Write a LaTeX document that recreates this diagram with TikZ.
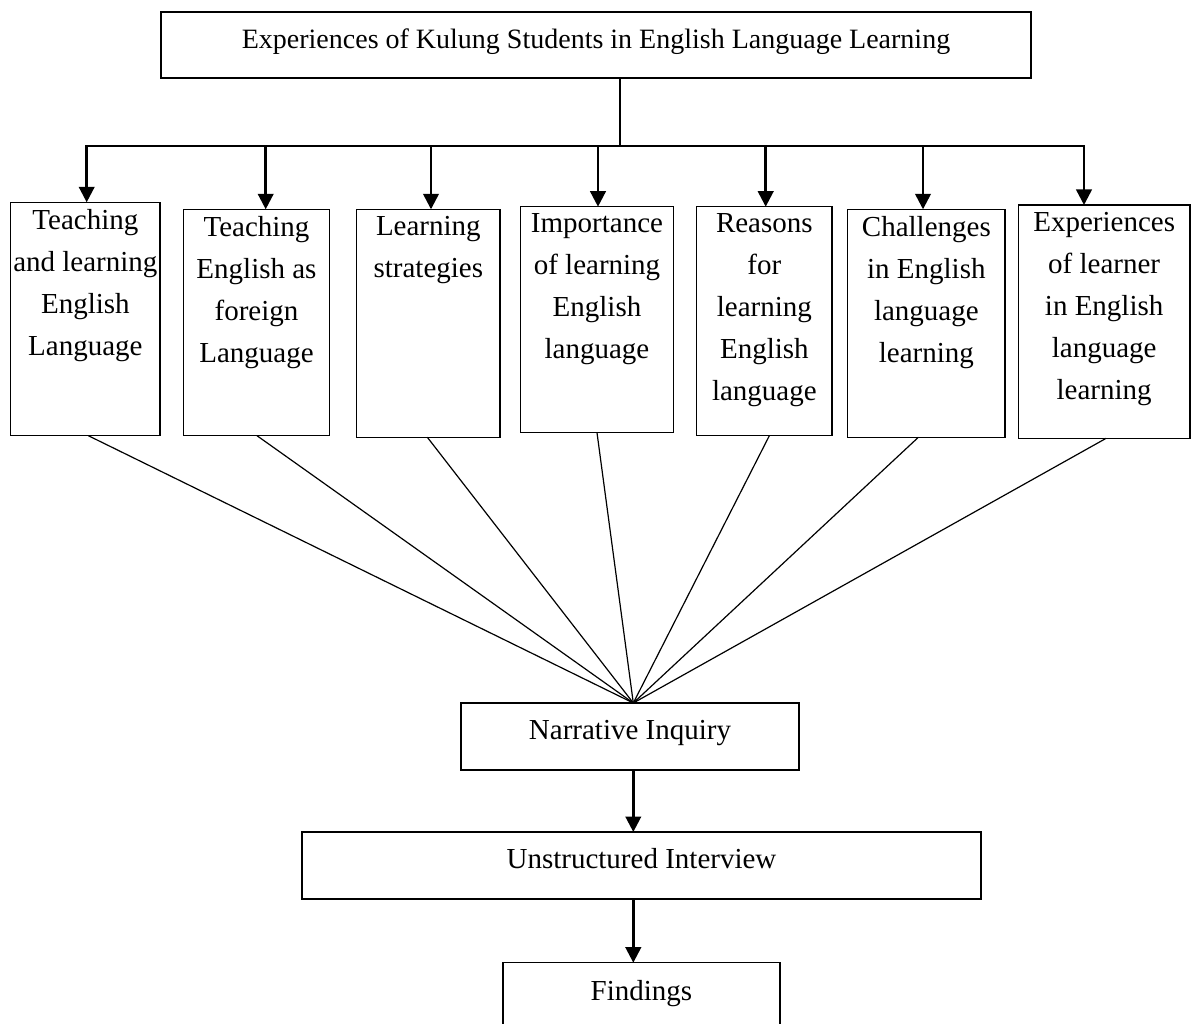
\documentclass[tikz,border=0pt]{standalone}
\usepackage{fontspec}
\setmainfont{Liberation Serif}
\usetikzlibrary{arrows.meta,calc}
\begin{document}
\begin{tikzpicture}[x=1pt,y=-1pt,
  box/.style={draw, line width=1.2pt, inner sep=0pt, outer sep=0pt, align=center},
  txt/.style={inner sep=0pt, align=center, anchor=north, font=\fontsize{29}{42}\selectfont},
  arr/.style={line width=2.5pt, -{Triangle[length=15.5pt,width=15.5pt]}},
  bus/.style={line width=2.5pt, line cap=rect},
  fan/.style={line width=1.2pt}]
\useasboundingbox (0,0) rectangle (1192,1024);
\clip (0,0) rectangle (1192,1024);

% top box
\node[box, minimum width=870pt, minimum height=66pt, text height=14pt, text depth=6pt,
  font=\fontsize{28}{34}\selectfont] (top) at (596,45)
  {Experiences of Kulung Students in English Language Learning};

% seven boxes
\node[box, minimum width=149.3pt, minimum height=233.4pt] (b1) at (85.35,319) {};
\node[box, minimum width=145.6pt, minimum height=226.4pt] (b2) at (256.5,322.5) {};
\node[box, minimum width=143.3pt, minimum height=228pt] (b3) at (428.35,323.3) {};
\node[box, minimum width=152.6pt, minimum height=226pt] (b4) at (597,319.7) {};
\node[box, minimum width=135.3pt, minimum height=229pt] (b5) at (764.35,321.2) {};
\node[box, minimum width=157.3pt, minimum height=228pt] (b6) at (926.35,323.3) {};
\node[box, minimum width=171.7pt, minimum height=233.3pt] (b7) at (1104.15,321.65) {};

\node[txt] (t1) at ($(b1.north)+(0,7)$) {Teaching\\and learning\\English\\Language};
\node[txt] (t2) at ($(b2.north)+(0,7)$) {Teaching\\English as\\foreign\\Language};
\node[txt] (t3) at ($(b3.north)+(0,7)$) {Learning\\strategies};
\node[txt] (t4) at ($(b4.north)+(0,7)$) {Importance\\of learning\\English\\language};
\node[txt] (t5) at ($(b5.north)+(0,7)$) {Reasons\\for\\learning\\English\\language};
\node[txt] (t6) at ($(b6.north)+(0,7)$) {Challenges\\in English\\language\\learning};
\node[txt] (t7) at ($(b7.north)+(0,7)$) {Experiences\\of learner\\in English\\language\\learning};

% lower boxes
\node[box, minimum width=338pt, minimum height=67pt, text height=12pt, text depth=6.4pt,
  font=\fontsize{29}{34}\selectfont] (narr) at (630,736.5) {Narrative Inquiry};
\node[box, minimum width=679pt, minimum height=67pt, text height=12pt, text depth=6.4pt,
  font=\fontsize{29}{34}\selectfont] (unst) at (641.5,865.5) {Unstructured Interview};
\node[box, minimum width=277pt, minimum height=80pt, text height=6pt, text depth=11.4pt,
  font=\fontsize{29}{34}\selectfont] (find) at (641.5,1002.7) {Findings};

% bus and arrows
\coordinate (tv) at ($(top.south)+(24,0)$);
\coordinate (a1) at (86.7,146);
\coordinate (a2) at (265.7,146);
\coordinate (a3) at (431,146);
\coordinate (a4) at (598,146);
\coordinate (a5) at (765.7,146);
\coordinate (a6) at (923,146);
\coordinate (a7) at (1084,146);
\draw[fan] (tv) -- (tv |- a4);
\draw[bus] (a1) -- (a7);
\draw[arr] (a1) -- (a1 |- b1.north);
\draw[arr] (a2) -- (a2 |- b2.north);
\draw[arr] (a3) -- (a3 |- b3.north);
\draw[arr] (a4) -- (a4 |- b4.north);
\draw[arr] (a5) -- (a5 |- b5.north);
\draw[arr] (a6) -- (a6 |- b6.north);
\draw[arr] (a7) -- (a7 |- b7.north);

% fan lines
\coordinate (conv) at ($(narr.north)+(3.3,0)$);
\draw[fan] ($(b1.south)+(3,0)$) -- (conv);
\draw[fan] ($(b2.south)+(0.5,0)$) -- (conv);
\draw[fan] ($(b3.south)+(-1,0)$) -- (conv);
\draw[fan] (b4.south) -- (conv);
\draw[fan] ($(b5.south)+(5,0)$) -- (conv);
\draw[fan] ($(b6.south)+(-8,0)$) -- (conv);
\draw[fan] ($(b7.south)+(2,0)$) -- (conv);

% down arrows
\draw[arr] (narr.south -| conv) -- (unst.north -| conv);
\draw[arr] (unst.south -| conv) -- (find.north -| conv);
\end{tikzpicture}
\end{document}
